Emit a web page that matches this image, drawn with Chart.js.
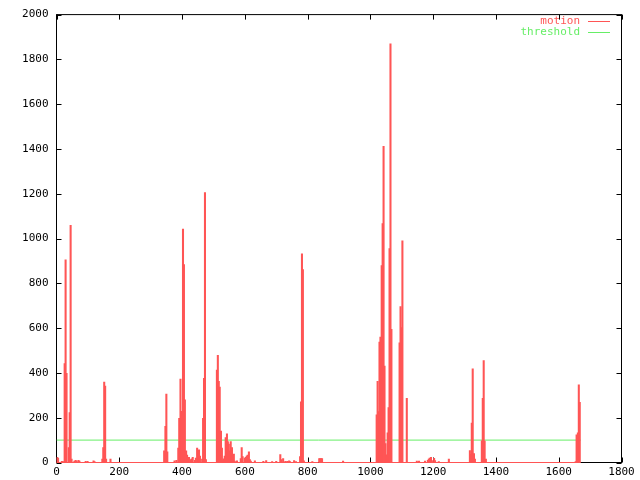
<!DOCTYPE html>
<html>
<head>
<meta charset="utf-8">
<script src="https://cdn.jsdelivr.net/npm/chart.js@4"></script>
<style>html,body{margin:0;padding:0;background:#fff}</style>
</head>
<body>
<canvas id="motion-chart" width="640" height="480"></canvas>
<script>
// frame numbers that have some motion, and the motion value at each
const frames = [
    2, 5, 17, 20, 26, 29, 32, 39, 42, 45, 48, 57, 61, 64, 70, 73, 93, 99, 118, 121,
    146, 149, 152, 155, 158, 172,
    343, 347, 350, 353, 376, 382, 388, 391, 395, 398, 403, 406, 409, 413, 416, 422,
    428, 431, 434, 441, 444, 448, 451, 454, 457, 464, 467, 470, 473, 476,
    511, 514, 517, 520, 524, 527, 530, 533, 536, 539, 543, 546, 549, 552, 555, 559,
    562, 565, 568, 575, 587, 590, 593, 600, 603, 606, 609, 613, 616, 619, 632, 659,
    668, 687, 700, 713, 716, 722, 729, 735, 741, 744, 757, 763, 776, 779, 782, 785,
    788, 815, 837, 840, 843, 846, 913,
    1020, 1023, 1026, 1029, 1032, 1036, 1039, 1042, 1045, 1048, 1051, 1055, 1058,
    1061, 1064, 1067, 1093, 1096, 1099, 1102, 1116, 1148, 1155, 1174, 1183, 1186,
    1189, 1193, 1196, 1203, 1206, 1218, 1250, 1317, 1320, 1323, 1326, 1330, 1333,
    1355, 1358, 1361, 1364, 1368, 1654, 1657, 1661, 1664, 1667
];
const motion = [
    22, 20, 5, 5, 442, 905, 398, 67, 223, 1059, 15, 6, 10, 6, 10, 6, 5, 5, 8, 4,
    15, 67, 359, 341, 15, 15,
    52, 162, 306, 48, 7, 10, 64, 197, 372, 228, 1042, 884, 280, 52, 33, 23,
    13, 16, 23, 10, 20, 64, 38, 57, 29, 15, 197, 376, 1205, 13,
    413, 478, 363, 337, 140, 64, 10, 16, 29, 111, 128, 93, 82, 52, 93, 67,
    33, 38, 6, 7, 17, 67, 26, 20, 22, 29, 33, 48, 13, 6, 7, 5,
    9, 4, 5, 35, 13, 17, 5, 5, 7, 4, 9, 4, 26, 271, 932, 862,
    8, 4, 17, 18, 18, 17, 6,
    213, 363, 227, 538, 560, 879, 1067, 1412, 431, 84, 34, 133, 245,
    955, 1870, 595, 534, 696, 602, 990, 286, 6, 6, 6, 10, 15,
    20, 23, 9, 19, 9, 4, 15, 53, 37, 176, 418, 40, 15,
    97, 286, 455, 96, 15, 4, 123, 133, 347, 269
];
const lastFrame = 1670;
const threshold = 100;

const motionColor = '#ff5555';
const thresholdColor = '#66ee66';
const fontFamily = '"DejaVu Sans Mono", monospace';

// gnuplot style frame: border box with inward ticks on all four sides
const framePlugin = {
    id: 'frame',
    beforeDatasetsDraw(chart) {
        const ctx = chart.ctx;
        const a = chart.chartArea;
        const xs = chart.scales.x;
        const ys = chart.scales.y;
        ctx.save();
        ctx.strokeStyle = '#000';
        ctx.lineWidth = 1;
        ctx.strokeRect(a.left, a.top, a.right - a.left, a.bottom - a.top);
        ctx.beginPath();
        xs.ticks.forEach((t) => {
            const px = Math.round(xs.getPixelForValue(t.value)) + 0.5;
            ctx.moveTo(px, a.bottom);
            ctx.lineTo(px, a.bottom - 5);
            ctx.moveTo(px, a.top);
            ctx.lineTo(px, a.top + 5);
        });
        ys.ticks.forEach((t) => {
            const py = Math.round(ys.getPixelForValue(t.value)) + 0.5;
            ctx.moveTo(a.left, py);
            ctx.lineTo(a.left + 5, py);
            ctx.moveTo(a.right, py);
            ctx.lineTo(a.right - 5, py);
        });
        ctx.stroke();
        ctx.restore();
    },
    afterDraw(chart) {
        // key in the top right: text right aligned, then a line sample
        const ctx = chart.ctx;
        ctx.save();
        ctx.font = '11px ' + fontFamily;
        ctx.textAlign = 'right';
        ctx.textBaseline = 'middle';
        let row = 0;
        chart.data.datasets.forEach((ds) => {
            if (!ds.label) return;
            const y = 21.5 + row * 11;
            ctx.fillStyle = ds.borderColor || ds.backgroundColor;
            ctx.fillText(ds.label, 580, y);
            ctx.strokeStyle = ds.borderColor || ds.backgroundColor;
            ctx.lineWidth = 1;
            ctx.beginPath();
            ctx.moveTo(588, y);
            ctx.lineTo(610, y);
            ctx.stroke();
            row++;
        });
        ctx.restore();
    }
};

const motionChart = new Chart(document.getElementById('motion-chart'), {
    type: 'bar',
    data: {
        datasets: [
            {
                label: 'motion',
                data: frames.map((f, i) => ({ x: f, y: motion[i] })),
                backgroundColor: motionColor,
                borderColor: motionColor,
                borderWidth: 0,
                barThickness: 1.4,
                order: 0,
            },
            {
                type: 'line',
                label: '',
                data: [{ x: 0, y: 0 }, { x: lastFrame, y: 0 }],
                borderColor: motionColor,
                borderWidth: 1,
                pointRadius: 0,
                clip: false,
                order: 0,
            },
            {
                type: 'line',
                label: 'threshold',
                data: [{ x: 0, y: threshold }, { x: lastFrame, y: threshold }],
                borderColor: thresholdColor,
                borderWidth: 1,
                pointRadius: 0,
                order: 2,
            }
        ]
    },
    options: {
        responsive: false,
        animation: false,
        layout: { padding: { top: 5.5, right: 18.5, left: 0, bottom: 0 } },
        plugins: {
            legend: { display: false },
            tooltip: { enabled: false },
        },
        scales: {
            x: {
                type: 'linear',
                offset: false,
                min: 0,
                max: 1800,
                grid: { display: false, drawTicks: false },
                border: { display: false },
                afterFit: (s) => { s.height = 17.5; },
                ticks: {
                    stepSize: 200,
                    autoSkip: false,
                    maxRotation: 0,
                    padding: 3,
                    color: '#000',
                    font: { family: fontFamily, size: 11 },
                    callback: (v) => String(v),
                }
            },
            y: {
                min: 0,
                max: 2000,
                grid: { display: false, drawTicks: false },
                border: { display: false },
                afterFit: (s) => { s.width = 56.5; },
                ticks: {
                    stepSize: 200,
                    padding: 8,
                    color: '#000',
                    font: { family: fontFamily, size: 11 },
                    callback: (v) => String(v),
                }
            }
        }
    },
    plugins: [framePlugin]
});
</script>
</body>
</html>
